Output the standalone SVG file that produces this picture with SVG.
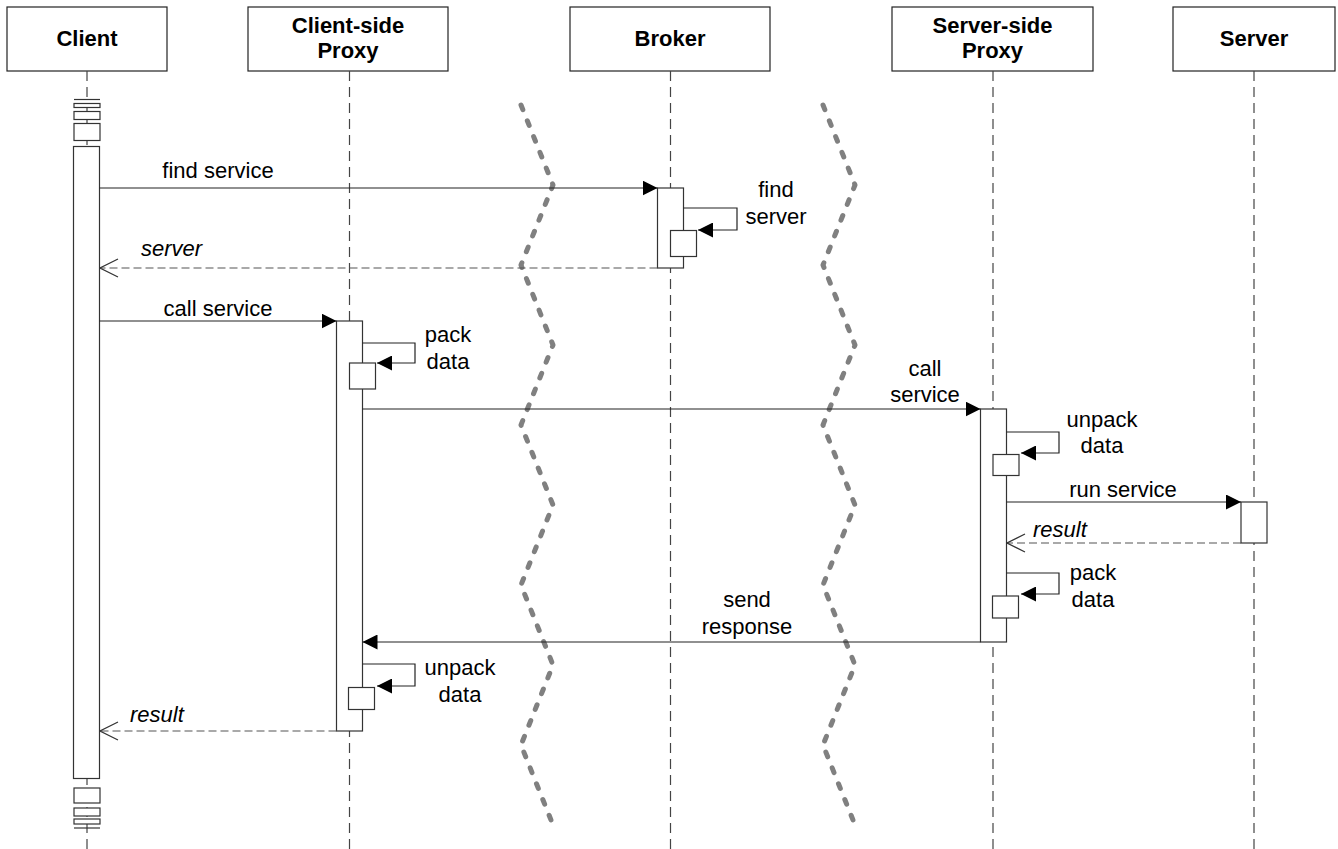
<svg xmlns="http://www.w3.org/2000/svg" width="1338" height="849" viewBox="0 0 1338 849">
<style>
  .hdr { fill: #ffffff; stroke: #222; stroke-width: 1.2; }
  .hdrtxt { font-family: "Liberation Sans", Arial, sans-serif; font-size: 22px; font-weight: bold; fill: #000; text-anchor: middle; }
  .life { stroke: #444; stroke-width: 1.2; stroke-dasharray: 10 6; fill: none; }
  .act { fill: #ffffff; stroke: #333; stroke-width: 1.2; }
  .msg { stroke: #222; stroke-width: 1.2; fill: none; }
  .ret { stroke: #555; stroke-width: 1.2; fill: none; stroke-dasharray: 8 4; }
  .lbl { font-family: "Liberation Sans", Arial, sans-serif; font-size: 22px; fill: #000; text-anchor: middle; }
  .ital { font-family: "Liberation Sans", Arial, sans-serif; font-size: 22px; font-style: italic; fill: #000; }
  .wave { stroke: #808080; stroke-width: 5; fill: none; stroke-dasharray: 5 12; stroke-linecap: round; stroke-linejoin: round; }
</style>
<defs>
  <marker id="fill" markerUnits="userSpaceOnUse" viewBox="0 0 15 15" refX="15" refY="7.5" markerWidth="15" markerHeight="15" orient="auto">
    <path d="M0,0 L15,7.5 L0,15 z" fill="#000"/>
  </marker>
  <marker id="open" markerUnits="userSpaceOnUse" viewBox="-1 -1 20 20" refX="18" refY="9" markerWidth="20" markerHeight="20" orient="auto">
    <path d="M0,0 L18,9 L0,18" fill="none" stroke="#333" stroke-width="1.2"/>
  </marker>
</defs>
<rect x="0" y="0" width="1338" height="849" fill="#ffffff"/>

<!-- boundary waves -->
<g id="boundaries">
  <path class="wave" d="M521,105 L553,185 L521,265 L553,345 L521,425 L553,505 L521,585 L553,665 L521,745 L553,825"/>
  <path class="wave" d="M823,105 L855,185 L823,265 L855,345 L823,425 L855,505 L823,585 L855,665 L823,745 L855,825"/>
</g>

<g id="client">
  <rect class="hdr" x="7" y="7" width="160" height="64"/>
  <text class="hdrtxt" x="87" y="46">Client</text>
  <line class="life" x1="87" y1="71" x2="87" y2="849"/>
  <line x1="74" y1="99.5" x2="100" y2="99.5" stroke="#333" stroke-width="1.2"/>
  <rect class="act" x="74" y="103.5" width="26" height="4"/>
  <rect class="act" x="74" y="111.5" width="26" height="8"/>
  <rect class="act" x="74" y="123.5" width="26" height="17"/>
  <rect class="act" x="73.5" y="146.5" width="26" height="632"/>
  <rect class="act" x="74" y="788" width="26" height="15"/>
  <rect class="act" x="74" y="808" width="26" height="8"/>
  <rect class="act" x="74" y="819" width="26" height="5"/>
  <line x1="74" y1="828" x2="100" y2="828" stroke="#333" stroke-width="1.2"/>
</g>

<g id="client-proxy">
  <rect class="hdr" x="248" y="7" width="200" height="64"/>
  <text class="hdrtxt" x="348" y="33">Client-side</text>
  <text class="hdrtxt" x="348" y="58">Proxy</text>
  <line class="life" x1="349.5" y1="71" x2="349.5" y2="849"/>
  <rect class="act" x="336.5" y="321" width="26" height="410"/>
  <rect class="act" x="349.5" y="363" width="26" height="26"/>
  <rect class="act" x="348.5" y="687.5" width="26" height="22"/>
</g>

<g id="broker">
  <rect class="hdr" x="570" y="7" width="200" height="64"/>
  <text class="hdrtxt" x="670" y="46">Broker</text>
  <line class="life" x1="670.5" y1="71" x2="670.5" y2="849"/>
  <rect class="act" x="657.5" y="188" width="26" height="80"/>
  <rect class="act" x="670.5" y="230.5" width="26" height="26"/>
</g>

<g id="server-proxy">
  <rect class="hdr" x="892" y="7" width="201" height="64"/>
  <text class="hdrtxt" x="992.5" y="33">Server-side</text>
  <text class="hdrtxt" x="992.5" y="58">Proxy</text>
  <line class="life" x1="993" y1="71" x2="993" y2="849"/>
  <rect class="act" x="980.5" y="409" width="26" height="233"/>
  <rect class="act" x="993" y="454.5" width="26" height="21"/>
  <rect class="act" x="992.5" y="596" width="26" height="22"/>
</g>

<g id="server">
  <rect class="hdr" x="1173" y="7" width="162" height="64"/>
  <text class="hdrtxt" x="1254" y="46">Server</text>
  <line class="life" x1="1254" y1="71" x2="1254" y2="849"/>
  <rect class="act" x="1241" y="502" width="26" height="41"/>
</g>

<g id="connectors">
  <line class="msg" x1="99.5" y1="188" x2="657.5" y2="188" marker-end="url(#fill)"/>
  <polyline class="msg" points="683.5,208 737,208 737,230 698,230" marker-end="url(#fill)"/>
  <line class="ret" x1="657.5" y1="268" x2="100" y2="268" marker-end="url(#open)"/>
  <line class="msg" x1="99.5" y1="321" x2="336.5" y2="321" marker-end="url(#fill)"/>
  <polyline class="msg" points="362.5,343 415,343 415,363 377,363" marker-end="url(#fill)"/>
  <line class="msg" x1="362.5" y1="409" x2="980.5" y2="409" marker-end="url(#fill)"/>
  <polyline class="msg" points="1006.5,432 1059,432 1059,453 1021,453" marker-end="url(#fill)"/>
  <line class="msg" x1="1006.5" y1="502" x2="1241" y2="502" marker-end="url(#fill)"/>
  <line class="ret" x1="1241" y1="543" x2="1007" y2="543" marker-end="url(#open)"/>
  <polyline class="msg" points="1006.5,573 1059,573 1059,594 1021,594" marker-end="url(#fill)"/>
  <line class="msg" x1="980.5" y1="642" x2="362.5" y2="642" marker-end="url(#fill)"/>
  <polyline class="msg" points="362.5,664 415,664 415,686 377,686" marker-end="url(#fill)"/>
  <line class="ret" x1="336.5" y1="731" x2="100" y2="731" marker-end="url(#open)"/>

  <text class="lbl" x="218" y="178">find service</text>
  <text class="lbl" x="776" y="197">find</text>
  <text class="lbl" x="776" y="224">server</text>
  <text class="ital" x="141" y="256">server</text>
  <text class="lbl" x="218" y="316">call service</text>
  <text class="lbl" x="448" y="342">pack</text>
  <text class="lbl" x="448" y="369">data</text>
  <text class="lbl" x="925" y="376">call</text>
  <text class="lbl" x="925" y="402">service</text>
  <text class="lbl" x="1102" y="427">unpack</text>
  <text class="lbl" x="1102" y="453">data</text>
  <text class="lbl" x="1123" y="497">run service</text>
  <text class="ital" x="1033" y="537">result</text>
  <text class="lbl" x="1093" y="580">pack</text>
  <text class="lbl" x="1093" y="607">data</text>
  <text class="lbl" x="747" y="607">send</text>
  <text class="lbl" x="747" y="634">response</text>
  <text class="lbl" x="460" y="675">unpack</text>
  <text class="lbl" x="460" y="702">data</text>
  <text class="ital" x="130" y="722">result</text>
</g>
</svg>
